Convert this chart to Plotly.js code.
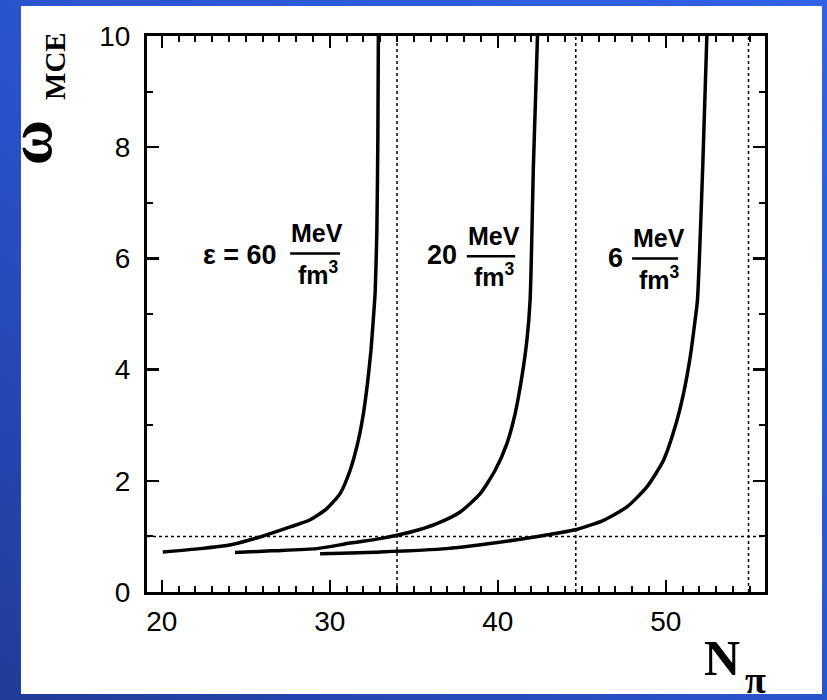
<!DOCTYPE html>
<html><head><meta charset="utf-8">
<script src="https://cdn.plot.ly/plotly-3.0.1.min.js"></script>
<style>
html,body{margin:0;padding:0;width:827px;height:700px;overflow:hidden;
background:linear-gradient(to top right,#1f3c98,#2a52cc 45%,#3163e6);}
#chart{width:827px;height:700px;}
</style>
</head><body><div id="chart"></div>
<script>
// ---- data ----
const curve60X = [20.06, 22.28, 24.26, 25.85, 27.64, 28.83, 29.82, 30.61, 31.21, 31.70, 32.00, 32.24, 32.45, 32.60, 32.70, 32.80, 32.86, 32.89];
const curve60Y = [0.72, 0.78, 0.86, 0.99, 1.17, 1.30, 1.50, 1.77, 2.19, 2.73, 3.21, 3.75, 4.35, 4.95, 5.40, 6.50, 8.20, 10.0];
const curve20X = [24.36, 26.50, 29.23, 31.21, 33.00, 33.99, 35.30, 36.37, 37.76, 38.95, 39.84, 40.54, 41.03, 41.43, 41.73, 41.92, 42.12, 42.36];
const curve20Y = [0.71, 0.74, 0.78, 0.88, 0.96, 1.02, 1.12, 1.23, 1.44, 1.77, 2.19, 2.67, 3.21, 3.87, 4.53, 5.25, 7.70, 10.0];
const curve6X = [29.42, 33.00, 36.96, 40.93, 42.80, 44.60, 46.29, 47.68, 48.87, 49.86, 50.55, 51.05, 51.45, 51.74, 51.88, 52.20, 52.44];
const curve6Y = [0.69, 0.72, 0.78, 0.93, 1.02, 1.12, 1.29, 1.53, 1.89, 2.37, 2.97, 3.57, 4.23, 4.89, 5.25, 7.70, 10.0];

const refLineY = [1];
const refLinesX = [34.0, 44.64, 54.92];

const xTicks = [20, 30, 40, 50];
const yTicks = [0, 2, 4, 6, 8, 10];

const labelPrefix = ['ε = 60', '20', '6'];
const labelNum = 'MeV';
const labelDen = 'fm<sup>3</sup>';

// ---- build ----
const lineStyle = {color: '#000', width: 3.5, shape: 'spline', smoothing: 0.6};
const traces = [
  {x: curve60X, y: curve60Y, mode: 'lines', line: lineStyle, hoverinfo: 'skip'},
  {x: curve20X, y: curve20Y, mode: 'lines', line: lineStyle, hoverinfo: 'skip'},
  {x: curve6X,  y: curve6Y,  mode: 'lines', line: lineStyle, hoverinfo: 'skip'}
];

const dotLine = {color: '#000', width: 1.5, dash: 'dot'};
const shapes = [
  // white panel behind the chart
  {type: 'rect', xref: 'paper', yref: 'paper', x0: -0.2039, x1: 1.0922, y0: -0.1835, y1: 1.054,
   fillcolor: '#ffffff', line: {width: 0}, layer: 'below'}
];
refLineY.forEach(v => shapes.push({type: 'line', xref: 'paper', yref: 'y', x0: 0, x1: 1, y0: v, y1: v, line: dotLine, layer: 'above'}));
refLinesX.forEach(v => shapes.push({type: 'line', xref: 'x', yref: 'paper', x0: v, x1: v, y0: 0, y1: 1, line: dotLine, layer: 'above'}));

// label placement (positions only)
const prefPos = [[24.66, 6.06], [36.67, 6.07], [46.98, 6.00]];
const numPos  = [[29.23, 6.45], [39.76, 6.40], [49.57, 6.36]];
const denPos  = [[29.33, 5.74], [39.81, 5.71], [49.60, 5.64]];
const barPos  = [[27.64, 30.61, 6.09], [38.15, 41.03, 6.04], [47.99, 50.73, 6.00]];

const lblFont = {family: 'Liberation Sans, Arial, sans-serif', size: 27, color: '#000'};
const fracFont = {family: 'Liberation Sans, Arial, sans-serif', size: 25, color: '#000'};
const annotations = [];
for (let i = 0; i < 3; i++) {
  annotations.push({x: prefPos[i][0], y: prefPos[i][1], xref: 'x', yref: 'y', xanchor: 'center', yanchor: 'middle', text: '<b>' + labelPrefix[i] + '</b>', showarrow: false, font: lblFont});
  annotations.push({x: numPos[i][0], y: numPos[i][1], xref: 'x', yref: 'y', xanchor: 'center', yanchor: 'middle', text: '<b>' + labelNum + '</b>', showarrow: false, font: fracFont});
  annotations.push({x: denPos[i][0], y: denPos[i][1], xref: 'x', yref: 'y', xanchor: 'center', yanchor: 'middle', text: '<b>' + labelDen + '</b>', showarrow: false, font: fracFont});
  shapes.push({type: 'line', xref: 'x', yref: 'y', x0: barPos[i][0], x1: barPos[i][1], y0: barPos[i][2], y1: barPos[i][2], line: {color: '#000', width: 2.5}});
}
// axis titles
const serif = 'Liberation Serif, Times New Roman, serif';
const titleAnn = (x, y, text, size, angle) => ({xref: 'paper', yref: 'paper', x: x, y: y, xanchor: 'center', yanchor: 'middle',
  text: text, textangle: angle, showarrow: false, font: {family: serif, size: size, color: '#000'}});
annotations.push(titleAnn(-0.19, 0.808, '<b>ω</b>', 62, -90));
annotations.push(titleAnn(-0.149, 0.946, '<b>MCE</b>', 29, -90));
annotations.push(titleAnn(0.93, -0.118, '<b>N</b>', 50, 0));
annotations.push(titleAnn(0.985, -0.158, '<b>π</b>', 38, 0));

const tickFont = {family: 'Liberation Sans, Arial, sans-serif', size: 28, color: '#000'};
const axisCommon = {
  showgrid: false, zeroline: false, showline: true, linecolor: '#000', linewidth: 3,
  mirror: 'ticks', ticks: 'inside', ticklen: 12, tickwidth: 2.5, tickcolor: '#000',
  tickfont: tickFont,
  minor: {ticks: 'inside', ticklen: 6, tickwidth: 2, tickcolor: '#000', dtick: 1, tick0: 0}
};
const layout = {
  width: 827, height: 700,
  margin: {l: 147, r: 62, t: 36, b: 108},
  paper_bgcolor: 'rgba(0,0,0,0)', plot_bgcolor: '#ffffff',
  showlegend: false,
  xaxis: Object.assign({}, axisCommon, {range: [19.12, 55.9], tickmode: 'array', tickvals: xTicks, ticktext: xTicks.map(String), ticklabelstandoff: 2}),
  yaxis: Object.assign({}, axisCommon, {range: [0, 10], tickmode: 'array', tickvals: yTicks, ticktext: yTicks.map(String), ticklabelstandoff: 8}),
  shapes: shapes,
  annotations: annotations
};
Plotly.newPlot('chart', traces, layout, {displayModeBar: false, staticPlot: true});
</script>
</body></html>
